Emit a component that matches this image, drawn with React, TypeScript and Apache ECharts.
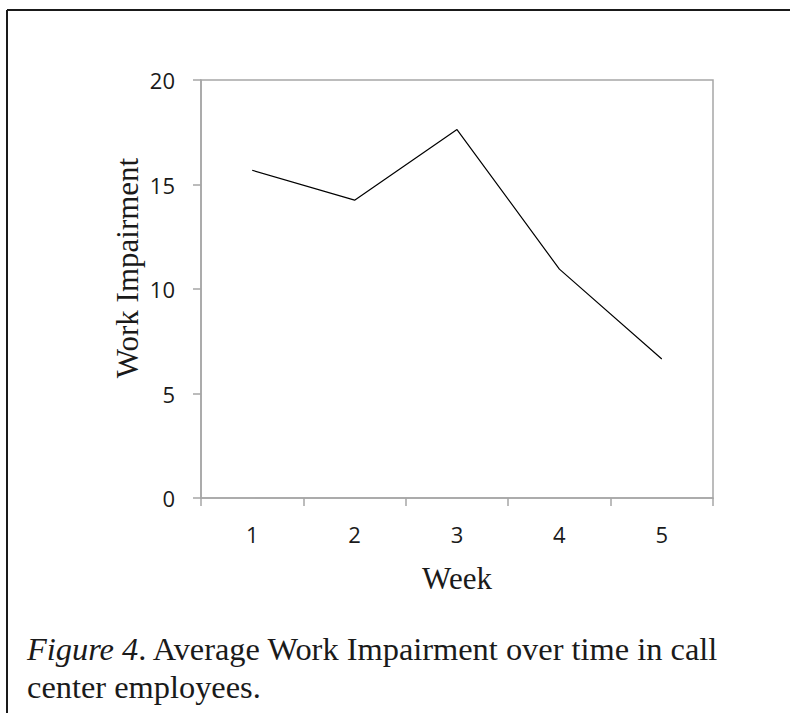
import React, { useEffect, useRef } from "react";
import * as echarts from "echarts";

const weeks = ["1", "2", "3", "4", "5"];
const workImpairment = [15.68, 14.25, 17.63, 10.95, 6.65];
const yTicks = { min: 0, max: 20, interval: 5 };
const yAxisTitle = "Work Impairment";
const xAxisTitle = "Week";
const captionItalic = "Figure 4";
const captionLine1 = ". Average Work Impairment over time in call";
const captionLine2 = "center employees.";

export default function App() {
  const ref = useRef<HTMLDivElement>(null);
  useEffect(() => {
    if (!ref.current) return;
    const chart = echarts.init(ref.current, null, { renderer: "svg" });
    const axisGray = "#a6a6a6";
    const serif = "'Liberation Serif', 'Times New Roman', serif";
    const sans = "'Open Sans', 'Noto Sans', sans-serif";
    chart.setOption({
      animation: false,
      backgroundColor: "#ffffff",
      grid: { left: 201, top: 80, right: 77, bottom: 215, containLabel: false, show: true, borderColor: axisGray, borderWidth: 1.5 },
      xAxis: {
        type: "category",
        data: weeks,
        boundaryGap: true,
        name: xAxisTitle,
        nameLocation: "middle",
        nameGap: 65,
        nameTextStyle: { fontFamily: serif, fontSize: 31, color: "#1a1a1a" },
        axisLine: { lineStyle: { color: axisGray, width: 1.5 } },
        axisTick: { show: true, length: 8, alignWithLabel: false, lineStyle: { color: axisGray, width: 1.5 } },
        axisLabel: { margin: 25, fontFamily: sans, fontSize: 22, color: "#1a1a1a" },
        splitLine: { show: false },
      },
      yAxis: {
        type: "value",
        min: yTicks.min,
        max: yTicks.max,
        interval: yTicks.interval,
        axisLine: { show: true, lineStyle: { color: axisGray, width: 1.5 } },
        axisTick: { show: true, length: 8, inside: false, lineStyle: { color: axisGray, width: 1.5 } },
        axisLabel: { margin: 26, fontFamily: sans, fontSize: 22, color: "#1a1a1a" },
        splitLine: { show: false },
      },
      series: [
        {
          type: "line",
          data: workImpairment,
          symbol: "none",
          lineStyle: { color: "#000000", width: 1.2 },
        },
      ],
      graphic: [
        { type: "line", shape: { x1: 7, y1: 10, x2: 790, y2: 10 }, style: { stroke: "#1a1a1a", lineWidth: 2 } },
        { type: "line", shape: { x1: 7, y1: 10, x2: 7, y2: 713 }, style: { stroke: "#1a1a1a", lineWidth: 2 } },
        {
          type: "text",
          x: 127,
          y: 268,
          rotation: Math.PI / 2,
          style: {
            text: yAxisTitle,
            fontFamily: serif,
            fontSize: 31,
            fill: "#1a1a1a",
            textAlign: "center",
            textVerticalAlign: "middle",
          },
        },
        {
          type: "text",
          left: 27,
          top: 633,
          style: {
            text: "{i|" + captionItalic + "}{n|" + captionLine1 + "}\n{n|" + captionLine2 + "}",
            rich: {
              i: { fontFamily: serif, fontStyle: "italic", fontSize: 32.4, fill: "#1a1a1a", lineHeight: 38 },
              n: { fontFamily: serif, fontSize: 32.4, fill: "#1a1a1a", lineHeight: 38 },
            },
          },
        },
      ],
    });
    return () => chart.dispose();
  }, []);
  return <div ref={ref} style={{ position: "absolute", left: 0, top: 0, width: 790, height: 713 }} />;
}
